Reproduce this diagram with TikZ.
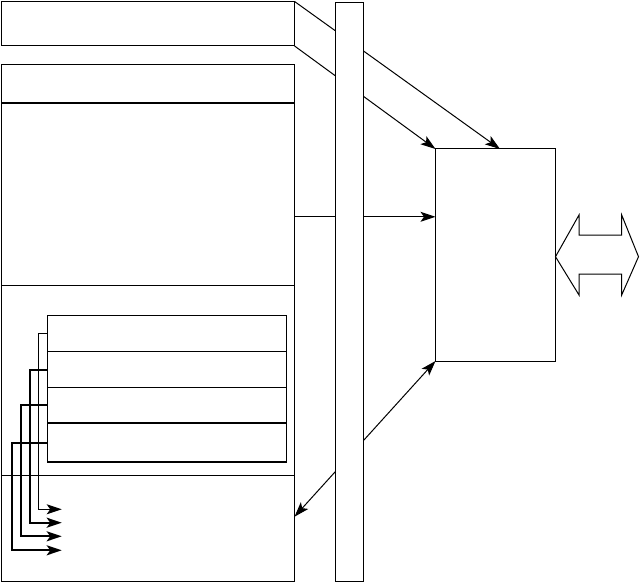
\documentclass[tikz,border=0pt]{standalone}
\usetikzlibrary{arrows.meta, positioning, calc}
\tikzset{
  box/.style={draw, fill=white, inner sep=0pt, outer sep=0pt},
  reg/.style={draw, inner sep=0pt, outer sep=0pt, minimum width=239pt,
              minimum height=#1},
  reg/.default=35.7pt,
  wire/.style={-{Stealth[length=15pt, width=10pt, inset=3.5pt]}},
  dwire/.style={{Stealth[length=15pt, width=10pt, inset=3.5pt]}-{Stealth[length=15pt, width=10pt, inset=3.5pt]}},
}

\begin{document}
\begin{tikzpicture}[x=1pt, y=-1pt, line width=1pt]
  \useasboundingbox (0,0) rectangle (640,583);

  % left column
  \node[box, minimum width=293pt, minimum height=44.5pt] (regtop) at (148,23.7) {};
  \node[box, minimum width=293pt, minimum height=516.7pt] (mem) at (148,322.65) {};
  \draw[line width=2pt] ($(mem.north west)+(0,38.7)$) -- ($(mem.north east)+(0,38.7)$);
  \draw ($(mem.north west)+(0,221)$) -- ($(mem.north east)+(0,221)$);
  \draw ($(mem.north west)+(0,411.4)$) -- ($(mem.north east)+(0,411.4)$);

  % register stack
  \node[reg=36.4pt, anchor=north] (reg1) at (166.8,315.3) {};
  \node[reg=35.6pt, below=0pt of reg1] (reg2) {};
  \node[reg, below=0pt of reg2] (reg3) {};
  \node[reg=39pt, below=0pt of reg3] (reg4) {};
  \draw[line width=2pt] (reg4.north west) -- (reg4.north east);
  \draw[line width=2pt] (reg4.south west) -- (reg4.south east);

  % outputs of the stack
  \foreach \i/\dx/\y/\w in {1/9/509.3/1pt, 2/17.3/522.7/2pt, 3/26.3/536.3/2pt, 4/35.6/550.3/2pt} {
    \coordinate (out\i) at (61.7,\y);
    \draw[wire, line width=\w] (reg\i.west) -- ++(-\dx,0) |- (out\i);
  }

  % right block
  \node[box, minimum width=120pt, minimum height=212pt] (ctrl) at (495.5,255) {};

  % connectors (they pass behind the bus)
  \coordinate (ctrltop) at ($(ctrl.north west)+(64.5,0)$);
  \coordinate (memout) at ($(mem.north east)+(0,152.5)$);
  \coordinate (memin) at ($(mem.north east)+(0,452.4)$);
  \draw[wire] (regtop.north east) -- (ctrltop);
  \draw[wire] (regtop.south east) -- (ctrl.north west);
  \draw[wire] (memout) -- (memout -| ctrl.west);
  \draw[dwire] (memin) -- (ctrl.south west);

  % bus
  \node[box, minimum width=28pt, minimum height=578.7pt] (bus) at (349.3,291.7) {};

  % external link
  \coordinate (link) at ($(ctrl.east)+(0,1.7)$);
  \draw (link) -- ++(23.5,-41.7) -- ++(0,20) -- ++(42.7,0) -- ++(0,-20)
    -- ++(16.8,41.7) -- ++(-16.8,38.3) -- ++(0,-21) -- ++(-42.7,0)
    -- ++(0,21) -- cycle;
\end{tikzpicture}
\end{document}
